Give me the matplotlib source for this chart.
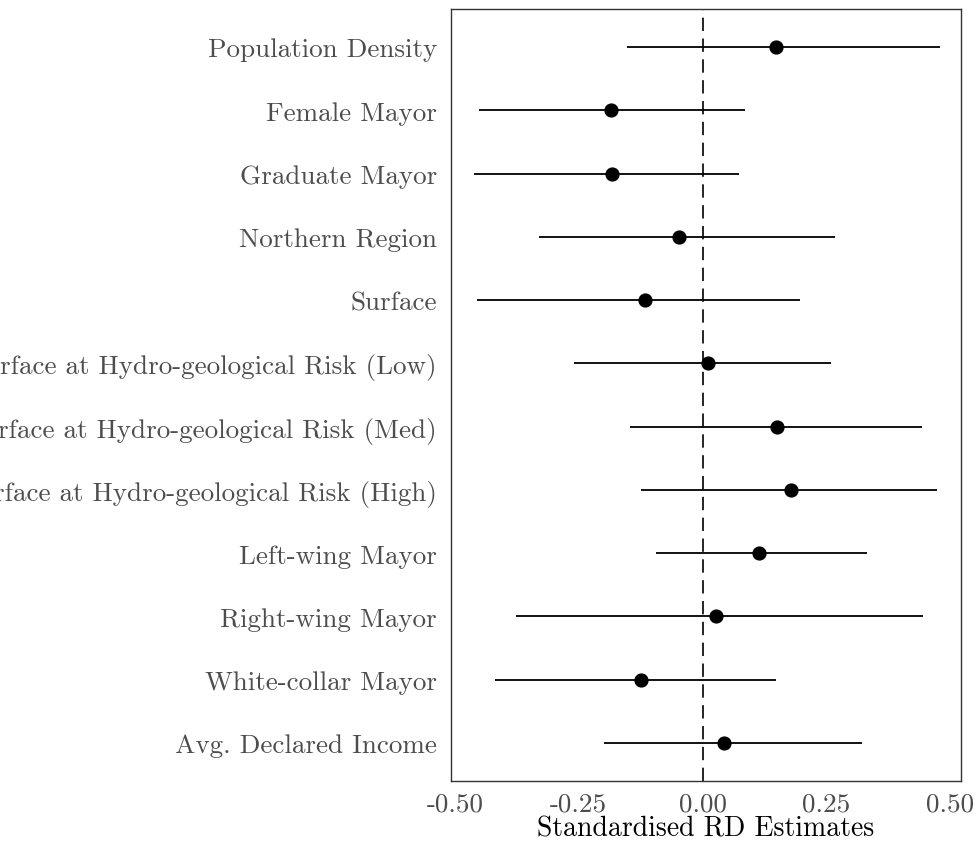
import matplotlib
matplotlib.use("Agg")
import matplotlib.pyplot as plt

# Covariate balance: standardised RD estimates with confidence intervals
labels = ["Population Density", "Female Mayor", "Graduate Mayor", "Northern Region",
          "Surface", "Surface at Hydro-geological Risk (Low)",
          "Surface at Hydro-geological Risk (Med)", "Surface at Hydro-geological Risk (High)",
          "Left-wing Mayor", "Right-wing Mayor", "White-collar Mayor", "Avg. Declared Income"]
estimate = [0.147, -0.185, -0.183, -0.048, -0.117, 0.010, 0.151, 0.179, 0.114, 0.026, -0.124, 0.044]
ci_low = [-0.152, -0.451, -0.461, -0.330, -0.455, -0.259, -0.147, -0.124, -0.095, -0.376, -0.419, -0.200]
ci_high = [0.479, 0.086, 0.074, 0.268, 0.196, 0.259, 0.442, 0.472, 0.332, 0.444, 0.149, 0.322]
xticks = [-0.50, -0.25, 0.00, 0.25, 0.50]
xticklabels = ["-0.50", "-0.25", "0.00", "0.25", "0.50"]

plt.rcParams['font.family'] = ['cmr10', 'DejaVu Serif']
plt.rcParams['axes.formatter.use_mathtext'] = True

fig = plt.figure(figsize=(9.78, 8.45), dpi=100)
ax = fig.add_axes([0.461, 0.0746, 0.522, 0.9134])

ypos = list(range(len(labels)))
ax.hlines(ypos, ci_low, ci_high, color="black", lw=1.3, zorder=2)
ax.scatter(estimate, ypos, s=85, color="black", zorder=3)
ax.axvline(0, color="black", lw=1.2, linestyle=(0, (8, 4.5)), zorder=1)

ax.set_xlim(-0.508, 0.522)
ax.set_ylim(len(labels) - 1 + 0.6, -0.6)
ax.set_yticks(ypos)
ax.set_yticklabels(labels)
ax.set_xticks(xticks)
ax.set_xticklabels(xticklabels)
ax.tick_params(length=0, labelsize=19.5, labelcolor="#4D4D4D")
ax.tick_params(axis="y", pad=10)
ax.tick_params(axis="x", pad=7.5)
ax.set_xlabel("Standardised RD Estimates", fontsize=20, labelpad=0)
for s in ax.spines.values():
    s.set_color("#333333")
    s.set_linewidth(1.0)

fig.savefig("out.png", dpi=100)
